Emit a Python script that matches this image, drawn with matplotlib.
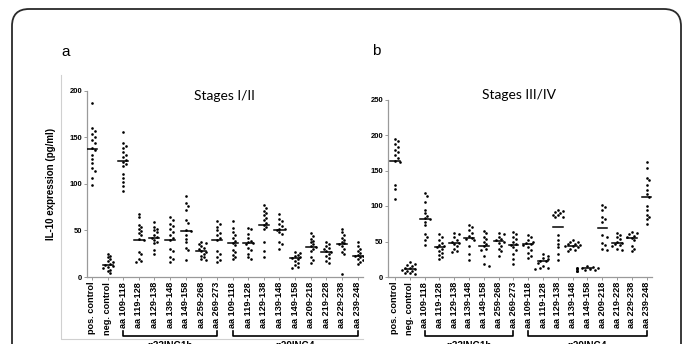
import numpy as np
import matplotlib.pyplot as plt
from matplotlib.patches import FancyBboxPatch
from matplotlib.lines import Line2D

W, H = 683, 344

labels = ['pos. control', 'neg. control',
          'aa 109-118', 'aa 119-128', 'aa 129-138', 'aa 139-148', 'aa 149-158', 'aa 259-268', 'aa 269-273',
          'aa 109-118', 'aa 119-128', 'aa 129-138', 'aa 139-148', 'aa 149-158', 'aa 209-218', 'aa 219-228',
          'aa 229-238', 'aa 239-248']
groups = ['p33ING1b', 'p29ING4']

# IL-10 (pg/ml), stages I/II
stage12 = [
    [187, 160, 157, 153, 150, 147, 144, 138, 136, 131, 127, 122, 117, 114, 106, 99],
    [25, 23, 21, 19, 17, 16, 14, 13, 12, 11, 10, 8, 6, 4],
    [155, 144, 141, 138, 134, 131, 129, 126, 123, 121, 119, 110, 106, 102, 98, 92],
    [68, 64, 56, 54, 52, 49, 47, 45, 41, 40, 27, 25, 19, 17, 16],
    [59, 54, 52, 50, 48, 45, 43, 42, 40, 38, 36, 29, 25],
    [64, 61, 57, 55, 51, 48, 45, 42, 40, 30, 28, 21, 19, 16],
    [87, 79, 76, 72, 61, 58, 50, 49, 45, 41, 37, 31, 29, 18],
    [37, 36, 35, 33, 31, 30, 28, 27, 25, 23, 21, 19, 18],
    [60, 57, 54, 50, 47, 45, 42, 40, 28, 25, 21, 18, 16],
    [60, 53, 48, 45, 42, 39, 36, 34, 29, 27, 24, 21, 19],
    [53, 51, 46, 42, 39, 37, 36, 35, 31, 29, 25, 21, 19],
    [77, 74, 71, 69, 66, 63, 61, 58, 56, 54, 52, 38, 28, 21],
    [68, 62, 60, 57, 55, 52, 51, 50, 48, 46, 37, 35, 30],
    [27, 26, 24, 22, 21, 20, 19, 17, 15, 13, 11, 10],
    [47, 44, 41, 39, 37, 35, 33, 32, 30, 28, 21, 18, 15],
    [37, 35, 33, 31, 30, 28, 27, 25, 22, 20, 17, 15],
    [52, 48, 45, 42, 40, 38, 36, 35, 33, 30, 27, 25, 3],
    [38, 33, 30, 28, 26, 24, 23, 22, 21, 19, 18, 16, 14],
]
mean12 = [137, 13, 124, 40, 42, 40, 49, 28, 40, 36, 36, 56, 50, 20, 32, 27, 35, 22]

# IL-10 (pg/ml), stages III/IV
stage34 = [
    [194, 191, 187, 183, 179, 176, 172, 168, 164, 162, 129, 124, 110],
    [21, 19, 17, 15, 13, 12, 11, 10, 9, 8, 6, 5, 4],
    [118, 114, 105, 95, 90, 86, 83, 82, 78, 73, 61, 57, 52, 45],
    [60, 56, 52, 48, 45, 43, 42, 40, 37, 34, 31, 28, 25],
    [62, 60, 56, 52, 50, 48, 47, 44, 40, 36, 35],
    [73, 70, 66, 62, 58, 55, 54, 52, 43, 33, 24],
    [65, 62, 57, 54, 50, 46, 43, 40, 38, 30, 18, 16],
    [62, 60, 57, 54, 52, 50, 48, 44, 40, 37, 30],
    [63, 60, 56, 53, 50, 47, 45, 42, 38, 33, 26, 18],
    [59, 56, 52, 50, 48, 47, 45, 42, 38, 34, 30, 27],
    [32, 30, 27, 25, 23, 22, 20, 15, 13, 12, 11],
    [95, 93, 91, 90, 88, 87, 85, 84, 59, 52, 47, 42, 33, 24],
    [52, 50, 49, 47, 46, 45, 44, 43, 42, 40, 38, 36],
    [15, 14, 13, 13, 12, 12, 11, 11, 10, 10, 9, 9, 8],
    [101, 98, 95, 84, 81, 77, 59, 57, 48, 45, 40, 38],
    [62, 59, 56, 53, 50, 48, 46, 45, 43, 40, 38],
    [64, 62, 60, 58, 57, 55, 52, 44, 40, 37],
    [162, 153, 139, 136, 130, 123, 117, 113, 100, 94, 88, 85, 82, 75],
]
mean34 = [164, 11, 82, 42, 48, 55, 44, 51, 45, 47, 23, 70, 44, 12, 69, 48, 55, 112]


def swarm(vals, px_unit, px_cat, d=3.0):
    # simple beeswarm: returns x offsets in category units
    placed = []
    offs = np.zeros(len(vals))
    for i in np.argsort(vals)[::-1]:
        y = vals[i] * px_unit
        for k in [0, 1, -1, 2, -2, 3, -3, 4, -4]:
            x = k * d * 0.85
            if all((x - px) ** 2 + (y - py) ** 2 >= d ** 2 for px, py in placed):
                break
        placed.append((x, y))
        offs[i] = x / px_cat
    return offs


plt.rcParams['font.family'] = ['Liberation Sans', 'DejaVu Sans']
fig = plt.figure(figsize=(W / 100, H / 100), dpi=100)


def box(l, r, t, b):
    return [l / W, 1 - b / H, (r - l) / W, (b - t) / H]


def panel(rect, data, means, ymax, yticks, stepx, xlim):
    ax = fig.add_axes(rect)
    px_unit = rect[3] * H / ymax
    for i, vals in enumerate(data):
        v = np.array(vals, float)
        ax.scatter(i + swarm(v, px_unit, stepx), v, s=3.6, c='black', linewidths=0, zorder=3)
        ax.plot([i - 0.32, i + 0.32], [means[i], means[i]], color='black', lw=1.1, zorder=4)
    ax.set_xlim(*xlim)
    ax.set_ylim(0, ymax)
    ax.set_yticks(yticks)
    ax.set_xticks(range(len(labels)))
    ax.set_xticklabels(labels, rotation=90, fontsize=6.6, fontweight='bold')
    for t in ax.get_yticklabels():
        t.set_fontsize(5.5)
        t.set_fontweight('bold')
    for s in ['top', 'right']:
        ax.spines[s].set_visible(False)
    for s in ['left', 'bottom']:
        ax.spines[s].set_color('#9a9a9a')
        ax.spines[s].set_linewidth(0.9)
    ax.tick_params(axis='both', color='#9a9a9a', length=2, width=0.7, pad=1.5)
    ax.set_facecolor('none')

    # group brackets under the tick labels (pixel offsets below the axis)
    hpx = rect[3] * H
    tr = ax.get_xaxis_transform()
    for (a, b), name in zip([(2, 8), (9, 17)], groups):
        y0, y1 = -54 / hpx, -59 / hpx
        ax.add_line(Line2D([a, a, b, b], [y0, y1, y1, y0], transform=tr, color='black',
                           lw=1.2, clip_on=False))
        ax.text((a + b) / 2, -64 / hpx, name, transform=tr, ha='center', va='top',
                fontsize=7, fontweight='bold', clip_on=False)
    return ax


ax1 = panel(box(87, 363, 90.5, 277), stage12, mean12, 200, [0, 50, 100, 150, 200], 15.59, (-0.32, 17.35))
ax1.set_ylabel('IL-10 expression (pg/ml)', fontsize=7, fontweight='bold', labelpad=10)
ax2 = panel(box(388, 652, 99.5, 277), stage34, mean34, 250, [0, 50, 100, 150, 200, 250], 14.8, (-0.47, 17.36))

fig.text(224 / W, 1 - 96 / H, 'Stages I/II', family='Lato', fontsize=10, ha='center', va='center')
fig.text(519 / W, 1 - 95 / H, 'Stages III/IV', family='Lato', fontsize=10, ha='center', va='center')
fig.text(61 / W, 1 - 52 / H, 'a', fontsize=11, ha='left', va='center')
fig.text(372 / W, 1 - 51 / H, 'b', fontsize=11, ha='left', va='center')

# faint border of the pasted panel a
fig.add_artist(Line2D([61 / W, 61 / W, 363 / W], [1 - 75 / H, 1 - 339 / H, 1 - 339 / H],
                      color='#d0d0d0', lw=0.8))

# rounded outer frame
fig.add_artist(FancyBboxPatch((12 / W, -0.2), (681 - 12) / W, 1 - 9 / H + 0.2,
                              boxstyle='round,pad=0,rounding_size=0.025', fill=False,
                              edgecolor='#2a2a2a', lw=1.3, transform=fig.transFigure,
                              mutation_aspect=W / H))

fig.savefig('out.png', dpi=100)
